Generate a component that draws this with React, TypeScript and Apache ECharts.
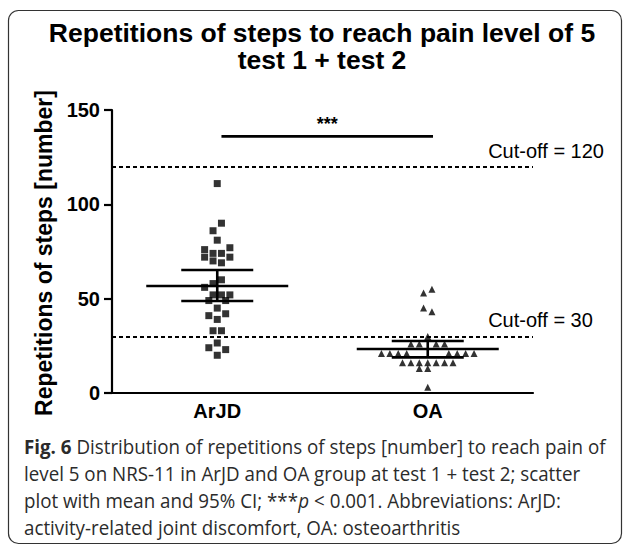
import React, { useEffect, useRef } from "react";
import * as echarts from "echarts";

// ---- data ----
const categories = ["ArJD", "OA"];
const yTicks = { min: 0, max: 150, interval: 50 };

// ArJD values and beeswarm lane (horizontal slot) of each point
const arjdValues = [111, 90, 86, 81, 76, 77, 74, 74, 72, 72, 70, 69, 60, 58, 56, 52, 52, 52, 49, 49, 45, 41, 42, 39, 33, 33, 26.5, 24, 23, 20];
const arjdLanes = [0, 1, -1, 0, -3, 3, -1, 1, -3, 3, -1, 1, 1, -1, -3, -1, 1, 3, -2, 2, 0, -2, 2, 0, -1, 1, 0, -2, 2, 0];

const oaValues = [53, 55, 45, 43, 30, 26, 26, 26, 26, 21, 21, 21, 21, 21, 21, 21, 21, 16, 16, 16, 16, 16, 16, 16, 13, 13, 3];
const oaLanes = [-1, 1, -1, 1, 0, -4, -2, 2, 4, -11, -9, -7, -5, 5, 7, 9, 11, -6, -4, -2, 0, 2, 4, 6, -2, 0, 0];

// mean and 95% CI per group: [mean, lower, upper]
const arjdStats = [56.7, 48.8, 65.2];
const oaStats = [23.3, 18.9, 27.6];

const cutoffs = [120, 30];
const sigLevel = 136;
const sigLabel = "***";

const titleLines = ["Repetitions of steps to reach pain level of 5", "test 1 + test 2"];
const yAxisName = "Repetitions of steps [number]";
const captionLines = [
  "{b|Fig. 6} Distribution of repetitions of steps [number] to reach pain of",
  "level 5 on NRS-11 in ArJD and OA group at test 1 + test 2; scatter",
  "plot with mean and 95% CI; ***{i|p} < 0.001. Abbreviations: ArJD:",
  "activity-related joint discomfort, OA: osteoarthritis",
];

const LANE = 0.02; // category units per beeswarm lane
const FONT = "'Liberation Sans', Arial, sans-serif";
const CAP_FONT = "'Open Sans', 'Noto Sans', sans-serif";

export default function App() {
  const ref = useRef<HTMLDivElement>(null);
  useEffect(() => {
    if (!ref.current) return;
    const chart = echarts.init(ref.current, null, { renderer: "svg" });

    // condense caption to the reference width
    let capScale = 0.8;
    try {
      const ctx = document.createElement("canvas").getContext("2d");
      if (ctx) {
        ctx.font = "20px 'Open Sans'";
        const w = ctx.measureText(captionLines[0].replace("{b|", "").replace("}", "")).width;
        if (w > 0) capScale = 580 / w;
      }
    } catch (e) {}

    const statsRender = (params: any, api: any) => {
      const x = api.value(0);
      const m = api.coord([x, api.value(1)]);
      const lo = api.coord([x, api.value(2)]);
      const hi = api.coord([x, api.value(3)]);
      const st = { stroke: "#000", lineWidth: 2.6 };
      return {
        type: "group",
        children: [
          { type: "line", shape: { x1: m[0] - 71, y1: m[1], x2: m[0] + 71, y2: m[1] }, style: st },
          { type: "line", shape: { x1: m[0] - 36, y1: lo[1], x2: m[0] + 36, y2: lo[1] }, style: st },
          { type: "line", shape: { x1: m[0] - 36, y1: hi[1], x2: m[0] + 36, y2: hi[1] }, style: st },
          { type: "line", shape: { x1: m[0], y1: lo[1], x2: m[0], y2: hi[1] }, style: st },
        ],
      };
    };

    const sigRender = (params: any, api: any) => {
      const a = api.coord([0.52, sigLevel]);
      const b = api.coord([1.525, sigLevel]);
      return {
        type: "group",
        children: [
          { type: "line", shape: { x1: a[0], y1: a[1], x2: b[0], y2: b[1] }, style: { stroke: "#000", lineWidth: 2.6 } },
          {
            type: "text",
            x: (a[0] + b[0]) / 2,
            y: a[1] - 3,
            style: { text: sigLabel, fill: "#000", fontSize: 18, fontWeight: "bold", fontFamily: FONT, align: "center", verticalAlign: "bottom" },
          },
        ],
      };
    };

    const cutRender = (params: any, api: any) => {
      const p = api.coord([1.787, api.value(0)]);
      return {
        type: "text",
        x: p[0],
        y: p[1] - 16,
        style: { text: "Cut-off = " + api.value(0), fill: "#000", fontSize: 20, fontFamily: FONT, align: "left", verticalAlign: "middle" },
      };
    };

    const option: any = {
      animation: false,
      backgroundColor: "#fff",
      grid: { left: 112, right: 97, top: 110, bottom: 153 },
      xAxis: [
        {
          type: "category",
          data: categories,
          boundaryGap: true,
          axisLine: { lineStyle: { color: "#000", width: 2.2 } },
          axisTick: { alignWithLabel: true, length: 6, lineStyle: { color: "#000", width: 2.2 } },
          axisLabel: { color: "#000", fontSize: 20, fontWeight: "bold", fontFamily: FONT, margin: 8 },
          splitLine: { show: false },
        },
        { type: "value", min: 0, max: 2, show: false },
      ],
      yAxis: {
        type: "value",
        min: yTicks.min,
        max: yTicks.max,
        interval: yTicks.interval,
        axisLine: { show: true, lineStyle: { color: "#000", width: 2.2 } },
        axisTick: { show: true, length: 8, lineStyle: { color: "#000", width: 2.2 } },
        axisLabel: { color: "#000", fontSize: 20, fontWeight: "bold", fontFamily: FONT, margin: 12 },
        splitLine: { show: false },
      },
      series: [
        {
          type: "scatter",
          xAxisIndex: 1,
          symbol: "rect",
          symbolSize: 7,
          itemStyle: { color: "#000" },
          data: arjdValues.map((v, i) => [0.5 + arjdLanes[i] * LANE, v]),
          markLine: {
            silent: true,
            symbol: "none",
            label: { show: false },
            lineStyle: { color: "#000", width: 2, type: [4, 3] },
            data: cutoffs.map((c) => ({ yAxis: c })),
          },
          z: 3,
        },
        {
          type: "scatter",
          xAxisIndex: 1,
          symbol: "triangle",
          symbolSize: 7,
          itemStyle: { color: "#000" },
          data: oaValues.map((v, i) => [1.5 + oaLanes[i] * LANE, v]),
          z: 3,
        },
        {
          type: "custom",
          xAxisIndex: 1,
          clip: false,
          renderItem: statsRender,
          data: [
            [0.5, ...arjdStats],
            [1.5, ...oaStats],
          ],
          z: 4,
        },
        { type: "custom", xAxisIndex: 1, clip: false, renderItem: sigRender, data: [[1]], z: 4 },
        { type: "custom", xAxisIndex: 1, clip: false, renderItem: cutRender, data: cutoffs.map((c) => [c]), z: 4 },
      ],
      graphic: [
        {
          type: "rect",
          shape: { x: 8.5, y: 10.5, width: 613, height: 533, r: 10 },
          style: { fill: "none", stroke: "#333", lineWidth: 1.2 },
          silent: true,
        },
        {
          type: "text",
          x: 322,
          y: 33,
          style: { text: titleLines[0], fill: "#000", fontSize: 26.5, fontWeight: "bold", fontFamily: FONT, align: "center", verticalAlign: "middle" },
        },
        {
          type: "text",
          x: 322,
          y: 60,
          style: { text: titleLines[1], fill: "#000", fontSize: 26.5, fontWeight: "bold", fontFamily: FONT, align: "center", verticalAlign: "middle" },
        },
        {
          type: "text",
          x: 44,
          y: 253,
          rotation: Math.PI / 2,
          style: { text: yAxisName, fill: "#000", fontSize: 23, fontWeight: "bold", fontFamily: FONT, align: "center", verticalAlign: "middle" },
        },
        ...captionLines.map((t, i) => ({
          type: "text",
          x: 24,
          y: 446 + i * 27,
          scaleX: capScale,
          style: {
            text: t,
            fill: "#2b2b2b",
            fontSize: 20,
            fontFamily: CAP_FONT,
            align: "left",
            verticalAlign: "middle",
            rich: {
              b: { fontSize: 20, fontWeight: "bold", fontFamily: CAP_FONT, fill: "#2b2b2b" },
              i: { fontSize: 20, fontStyle: "italic", fontFamily: CAP_FONT, fill: "#2b2b2b" },
            },
          },
        })),
      ],
    };
    chart.setOption(option);
    return () => chart.dispose();
  }, []);
  return <div ref={ref} style={{ position: "absolute", left: 0, top: 0, width: 630, height: 546 }} />;
}
